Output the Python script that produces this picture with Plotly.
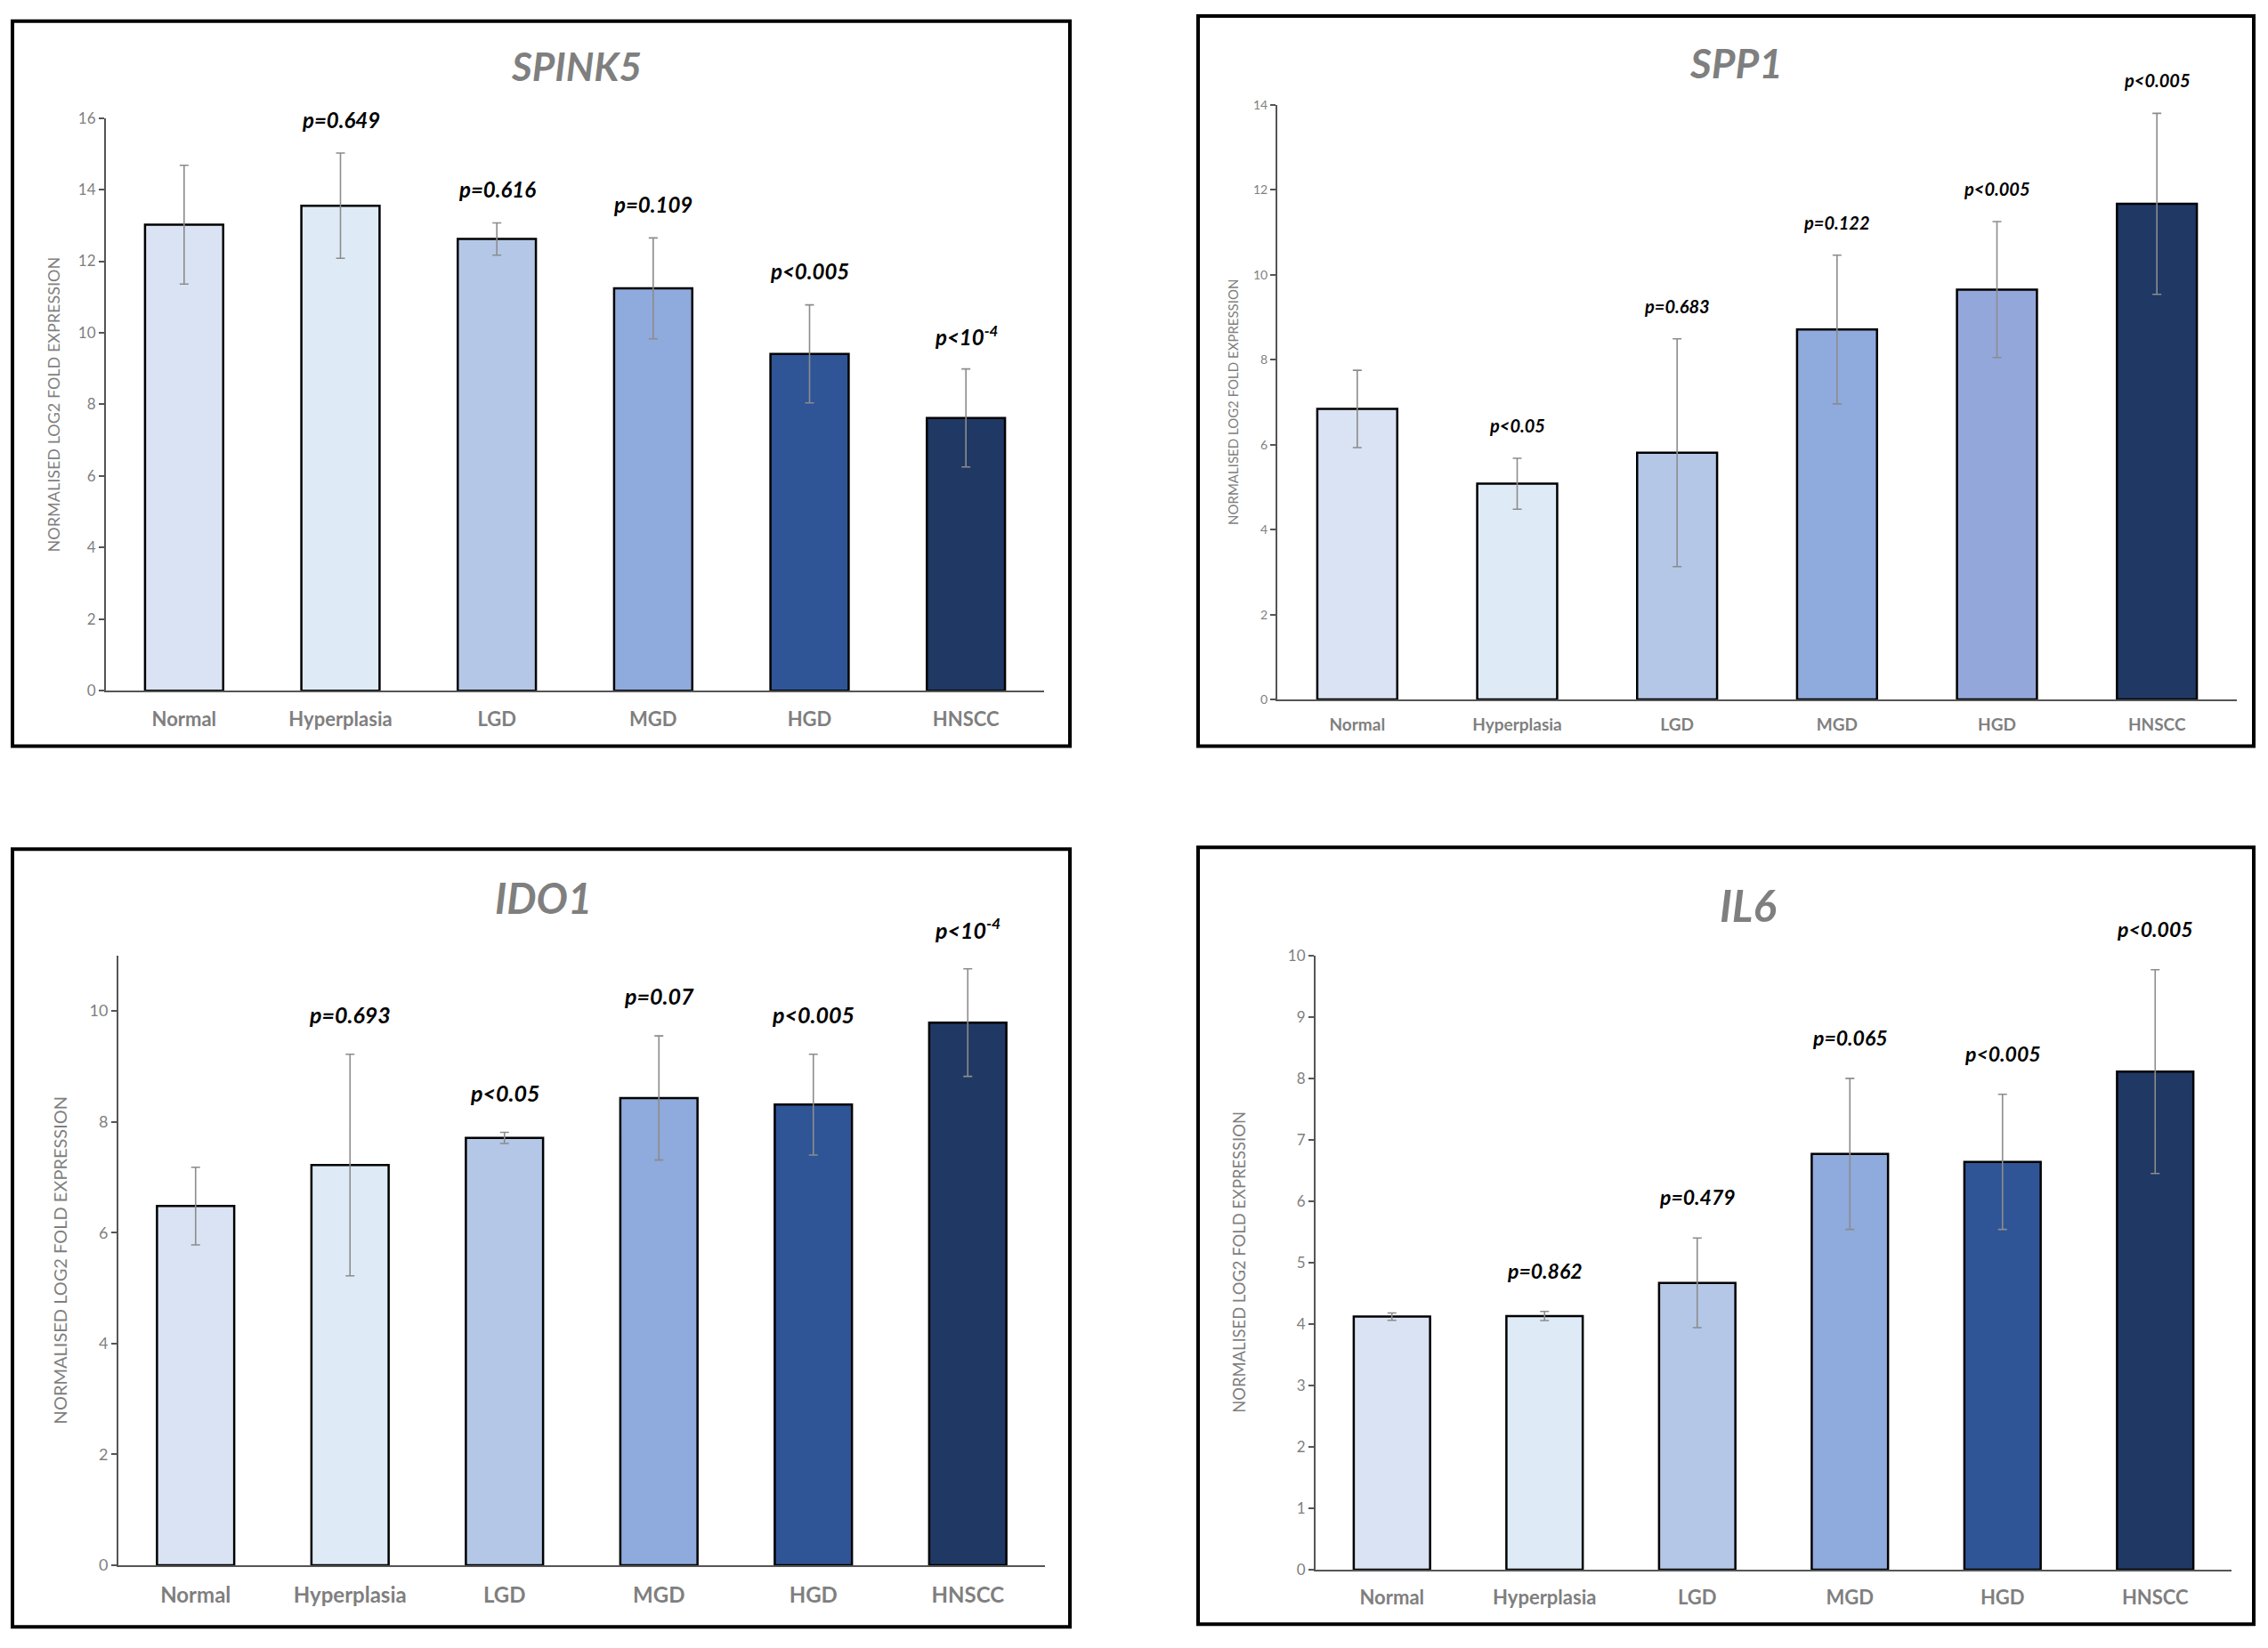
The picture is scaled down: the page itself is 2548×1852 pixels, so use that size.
import plotly.graph_objects as go

W, H = 2548, 1852

categories = ["Normal", "Hyperplasia", "LGD", "MGD", "HGD", "HNSCC"]
bar_colors = ["#dae3f3", "#deebf7", "#b4c7e7", "#8faadc", "#2f5597", "#203864"]
spp1_colors = ["#dae3f3", "#deebf7", "#b4c7e7", "#8faadc", "#94a7da", "#203864"]

spink5_mean = [13.02, 13.55, 12.62, 11.24, 9.41, 7.62]
spink5_err = [1.66, 1.47, 0.45, 1.41, 1.37, 1.37]
spink5_p = [None, "p=0.649", "p=0.616", "p=0.109", "p<0.005", "p<10^-4"]

spp1_mean = [6.84, 5.08, 5.81, 8.71, 9.65, 11.67]
spp1_err = [0.91, 0.60, 2.68, 1.75, 1.60, 2.13]
spp1_p = [None, "p<0.05", "p=0.683", "p=0.122", "p<0.005", "p<0.005"]

ido1_mean = [6.48, 7.22, 7.71, 8.43, 8.31, 9.79]
ido1_err = [0.70, 2.00, 0.10, 1.12, 0.91, 0.97]
ido1_p = [None, "p=0.693", "p<0.05", "p=0.07", "p<0.005", "p<10^-4"]

il6_mean = [4.12, 4.13, 4.67, 6.77, 6.64, 8.11]
il6_err = [0.06, 0.075, 0.73, 1.23, 1.10, 1.66]
il6_p = [None, "p=0.862", "p=0.479", "p=0.065", "p<0.005", "p<0.005"]

FONT = "Lato"
GREY = "#7f7f7f"
AXIS = "#555555"


def fx(px):
    return px / W


def fy(py):
    return 1 - py / H


def p_html(s):
    s = s.replace("<", "&lt;")
    if "^" in s:
        base, exp = s.split("^")
        s = base + "<sup>" + exp + "</sup>"
    return "<b><i>" + s + "</i></b>"


# layout of each panel, in page pixels
panels = [
    dict(name="SPINK5", mean=spink5_mean, err=spink5_err, p=spink5_p, colors=bar_colors,
         xd=(119, 1173), yd=(774, 123), yr=16, dtick=2,
         title_xy=(647, 64), title_size=44, box=(14, 13, 1202, 837),
         tick=17, cat=22, pf=24, yt=18, ytx=-59, pshift=38, catpad=11),
    dict(name="SPP1", mean=spp1_mean, err=spp1_err, p=spp1_p, colors=spp1_colors,
         xd=(1435, 2513), yd=(784, 108), yr=14, dtick=2,
         title_xy=(1950, 60), title_size=46, box=(1346, 7, 2532, 837),
         tick=14, cat=19, pf=20, yt=15, ytx=-50, pshift=37, catpad=10),
    dict(name="IDO1", mean=ido1_mean, err=ido1_err, p=ido1_p, colors=bar_colors,
         xd=(133, 1174), yd=(1768, 1075), yr=11, dtick=2,
         title_xy=(610, 1009), title_size=47, box=(14, 954, 1202, 1838),
         tick=18, cat=24, pf=25, yt=20, ytx=-66, pshift=45, catpad=11),
    dict(name="IL6", mean=il6_mean, err=il6_err, p=il6_p, colors=bar_colors,
         xd=(1478, 2507), yd=(1773, 1075), yr=10, dtick=1,
         title_xy=(1964, 1018), title_size=49, box=(1346, 952, 2532, 1835),
         tick=17, cat=22, pf=23, yt=18.4, ytx=-86, pshift=46, catpad=11),
]

fig = go.Figure()
annotations = []
shapes = []

for i, pn in enumerate(panels, start=1):
    sfx = "" if i == 1 else str(i)
    xa, ya = "x" + sfx, "y" + sfx

    fig.add_trace(go.Bar(
        x=categories, y=pn["mean"], xaxis=xa, yaxis=ya,
        marker=dict(color=pn["colors"], line=dict(color="black", width=2.5)),
        error_y=dict(type="data", array=pn["err"], visible=True,
                     color="#8c8c8c", thickness=1.6, width=5),
        hoverinfo="x+y",
    ))

    fig.layout["xaxis" + sfx] = dict(
        domain=[fx(pn["xd"][0]), fx(pn["xd"][1])], anchor=ya,
        type="category", range=[-0.5, 5.5],
        tickvals=categories, ticktext=["<b>" + c + "</b>" for c in categories],
        showline=True, linecolor=AXIS, linewidth=2, ticks="",
        showgrid=False, zeroline=False, ticklabelstandoff=pn["catpad"],
        tickfont=dict(family=FONT, size=pn["cat"], color=GREY),
    )
    fig.layout["yaxis" + sfx] = dict(
        domain=[fy(pn["yd"][0]), fy(pn["yd"][1])], anchor=xa,
        range=[0, pn["yr"]], dtick=pn["dtick"], tick0=0,
        showline=True, linecolor=AXIS, linewidth=2,
        ticks="outside", ticklen=6, tickcolor=AXIS, tickwidth=1.5,
        showgrid=False, zeroline=False,
        tickfont=dict(family=FONT, size=pn["tick"], color=GREY),
    )

    # panel title
    annotations.append(dict(
        text="<b><i>" + pn["name"] + "</i></b>", xref="paper", yref="paper",
        x=fx(pn["title_xy"][0]), y=fy(pn["title_xy"][1]),
        xanchor="center", yanchor="middle", showarrow=False,
        font=dict(family=FONT, size=pn["title_size"], color=GREY),
    ))
    # y axis title
    annotations.append(dict(
        text="NORMALISED LOG2 FOLD EXPRESSION", xref=xa + " domain", yref=ya + " domain",
        x=0, y=0.5, xshift=pn["ytx"], textangle=-90,
        xanchor="center", yanchor="middle", showarrow=False,
        font=dict(family=FONT, size=pn["yt"], color=GREY),
    ))
    # p-values above the error bars
    for cat, m, e, p in zip(categories, pn["mean"], pn["err"], pn["p"]):
        if p is None:
            continue
        annotations.append(dict(
            text=p_html(p), xref=xa, yref=ya, x=cat, y=m + e,
            yshift=pn["pshift"], xanchor="center", yanchor="middle",
            showarrow=False, font=dict(family=FONT, size=pn["pf"], color="black"),
        ))

    # panel frame
    x0, y0, x1, y1 = pn["box"]
    shapes.append(dict(type="rect", xref="paper", yref="paper",
                       x0=fx(x0), x1=fx(x1), y0=fy(y1), y1=fy(y0),
                       line=dict(color="black", width=4), fillcolor="rgba(0,0,0,0)"))

fig.update_layout(
    width=W, height=H,
    margin=dict(l=0, r=0, t=0, b=0),
    paper_bgcolor="white", plot_bgcolor="white",
    showlegend=False, bargap=0.5,
    annotations=annotations, shapes=shapes,
    font=dict(family=FONT),
)

fig.write_html(
    "out.html",
    config={"displayModeBar": False},
    post_script="document.body.style.margin='0';"
                "document.body.style.overflow='hidden';"
                "document.documentElement.style.overflow='hidden';",
)
